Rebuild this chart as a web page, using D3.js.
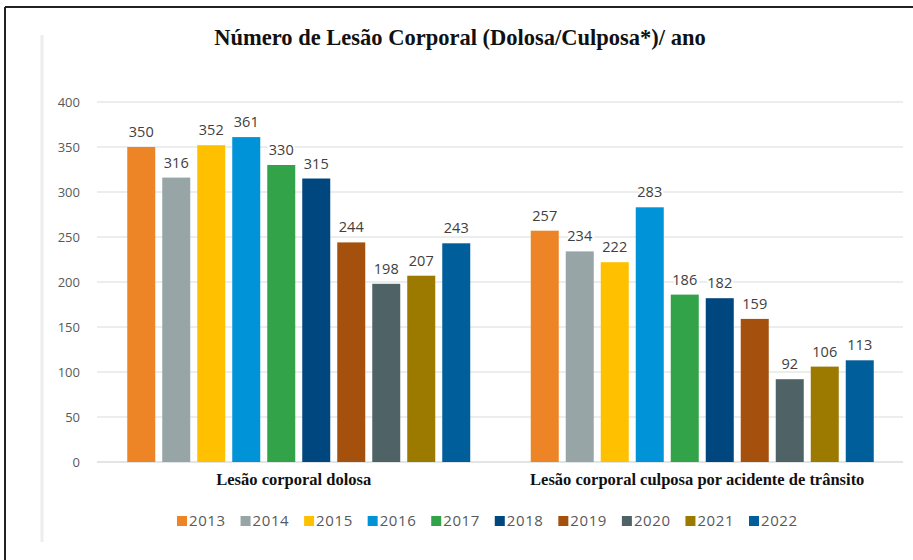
<!DOCTYPE html>
<html>
<head>
<meta charset="utf-8">
<script src="https://cdn.jsdelivr.net/npm/d3@7"></script>
<style>
  body { margin: 0; background: #fff; }
  svg { display: block; }
</style>
</head>
<body>
<svg id="chart" width="913" height="560"></svg>
<script>
// categories and series
var categories = ["Lesão corporal dolosa", "Lesão corporal culposa por acidente de trânsito"];
var years = ["2013", "2014", "2015", "2016", "2017", "2018", "2019", "2020", "2021", "2022"];
var dolosa = [350, 316, 352, 361, 330, 315, 244, 198, 207, 243];
var culposa = [257, 234, 222, 283, 186, 182, 159, 92, 106, 113];
var yTicks = [0, 50, 100, 150, 200, 250, 300, 350, 400];
var colors = ["#ED8526", "#97A5A6", "#FFC000", "#0093D7", "#33A34A", "#00467F", "#A5500C", "#4F6366", "#9C7A00", "#005F9B"];

var seriesByCat = [dolosa, culposa];

var svg = d3.select("#chart");

// frame lines
svg.append("line").attr("x1", 5).attr("x2", 913).attr("y1", 7).attr("y2", 7)
  .attr("stroke", "#222").attr("stroke-width", 2);
svg.append("line").attr("x1", 5).attr("x2", 5).attr("y1", 7).attr("y2", 560)
  .attr("stroke", "#222").attr("stroke-width", 2);
svg.append("line").attr("x1", 42).attr("x2", 42).attr("y1", 35).attr("y2", 542)
  .attr("stroke", "#eceeee").attr("stroke-width", 3);

// title
svg.append("text")
  .attr("x", 460).attr("y", 45)
  .attr("text-anchor", "middle")
  .style("font-family", "'Liberation Serif', serif")
  .style("font-weight", "bold")
  .style("font-size", "22.5px")
  .attr("fill", "#111")
  .text("Número de Lesão Corporal (Dolosa/Culposa*)/ ano");

var x0 = d3.scaleBand().domain(categories).range([97, 904]).padding(0);
var x1 = d3.scaleBand().domain(years).range([0, 350]).paddingInner(0.2).paddingOuter(0.1);
var y = d3.scaleLinear().domain([0, 400]).range([462, 102]);

// gridlines
svg.append("g").selectAll("line").data(yTicks.slice(1)).enter().append("line")
  .attr("x1", 97).attr("x2", 903)
  .attr("y1", function(d) { return y(d); }).attr("y2", function(d) { return y(d); })
  .attr("stroke", "#e6e8e8").attr("stroke-width", 1.5);
svg.append("line").attr("x1", 97).attr("x2", 903).attr("y1", y(0)).attr("y2", y(0))
  .attr("stroke", "#d9dcdc").attr("stroke-width", 1.5);

// y axis labels
svg.append("g").selectAll("text").data(yTicks).enter().append("text")
  .attr("x", 80).attr("y", function(d) { return y(d); }).attr("dy", "0.35em")
  .attr("text-anchor", "end")
  .style("font-family", "'Open Sans', sans-serif").style("font-size", "13px")
  .attr("fill", "#595959")
  .text(function(d) { return d; });

// bars
var groups = svg.append("g").selectAll("g").data(categories).enter().append("g")
  .attr("transform", function(d) { return "translate(" + (x0(d) + (x0.bandwidth() - 350) / 2) + ",0)"; });

groups.each(function(cat, ci) {
  var g = d3.select(this);
  var vals = seriesByCat[ci].map(function(v, i) { return { year: years[i], value: v, color: colors[i] }; });
  g.selectAll("rect").data(vals).enter().append("rect")
    .attr("x", function(d) { return x1(d.year); })
    .attr("y", function(d) { return y(d.value); })
    .attr("width", x1.bandwidth())
    .attr("height", function(d) { return y(0) - y(d.value); })
    .attr("fill", function(d) { return d.color; });
  g.selectAll("text").data(vals).enter().append("text")
    .attr("x", function(d) { return x1(d.year) + x1.bandwidth() / 2; })
    .attr("y", function(d) { return y(d.value) - 10; })
    .attr("text-anchor", "middle")
    .style("font-family", "'Open Sans', sans-serif").style("font-size", "14.5px")
    .attr("fill", "#404040")
    .attr("stroke", "#fff").attr("stroke-width", 4).attr("paint-order", "stroke")
    .text(function(d) { return d.value; });
});

// category labels
svg.append("g").selectAll("text").data(categories).enter().append("text")
  .attr("x", function(d) { return x0(d) + x0.bandwidth() / 2 - 5; })
  .attr("y", 485)
  .attr("text-anchor", "middle")
  .style("font-family", "'Liberation Serif', serif")
  .style("font-weight", "bold")
  .style("font-size", "16.5px")
  .attr("fill", "#111")
  .text(function(d) { return d; });

// legend
var legendX = d3.scalePoint().domain(years).range([177, 749]);
var leg = svg.append("g").selectAll("g").data(years).enter().append("g")
  .attr("transform", function(d) { return "translate(" + legendX(d) + ",521)"; });
leg.append("rect").attr("x", 0).attr("y", -5).attr("width", 10).attr("height", 10)
  .attr("fill", function(d, i) { return colors[i]; });
leg.append("text").attr("x", 12).attr("y", 0).attr("dy", "0.36em")
  .style("font-family", "'Open Sans', sans-serif").style("font-size", "15px")
  .style("letter-spacing", "0.6px")
  .attr("fill", "#595959")
  .text(function(d) { return d; });
</script>
</body>
</html>
